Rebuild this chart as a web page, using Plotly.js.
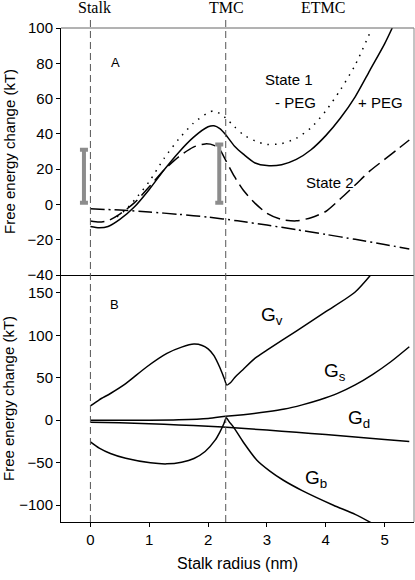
<!DOCTYPE html>
<html><head><meta charset="utf-8">
<script src="https://cdn.plot.ly/plotly-3.0.1.min.js"></script>
<style>html,body{margin:0;padding:0;background:#fff}#chart{width:415px;height:580px}</style>
</head><body><div id="chart"></div>
<script>
// ---- Panel A data ----
var s1PlusX  = [0,0.15,0.3,0.5,0.75,1.0,1.25,1.5,1.75,2.0,2.1,2.2,2.3,2.45,2.6,2.8,3.0,3.25,3.5,3.75,4.0,4.25,4.5,4.75,5.0,5.13];
var s1PlusY  = [-12.5,-13.2,-12.5,-8.5,-1.3,8.5,19.5,29.5,38,44,44.6,43,39.5,33,28.5,23.5,22,22.5,25.5,31,39,49,61,76,91,100];
var s1MinusX = [0.45,0.6,0.8,1.0,1.25,1.5,1.75,2.0,2.1,2.2,2.3,2.45,2.6,2.8,3.0,3.25,3.5,3.75,4.0,4.25,4.5,4.76];
var s1MinusY = [-7,-3,4.5,13,26,37,46,52,53,51.5,49,44,39.5,36,34,34.5,37.5,43.5,53,65,79,98];
var s2X      = [0,0.15,0.3,0.5,0.75,1.0,1.25,1.5,1.75,1.95,2.1,2.2,2.3,2.45,2.6,2.8,3.0,3.25,3.5,3.75,4.0,4.25,4.5,4.75,5.0,5.2,5.42];
var s2Y      = [-9.4,-10,-9.2,-5.5,1,10,19.5,27,32.5,34.3,33.5,31,25,15.7,8,0.6,-5,-8.5,-9.3,-7.5,-4,3.2,11,19,25.5,30.7,36.5];
var gdX      = [0,0.5,1.0,1.5,2.0,2.5,3.0,3.5,4.0,4.5,5.0,5.42];
var gdY      = [-2.5,-3.2,-4.3,-5.6,-7.2,-9.3,-11.7,-14.3,-17.0,-19.8,-22.7,-25.2];
var barX     = [-0.11, 2.19];
var barLow   = [1.0, 1.0];
var barHigh  = [31, 34];
// ---- Panel B data ----
var gvX = [0,0.15,0.34,0.6,0.96,1.3,1.55,1.76,1.9,2.0,2.1,2.2,2.27,2.32,2.38,2.45,2.6,2.8,3.0,3.5,4.0,4.5,4.8];
var gvY = [16.9,24,31.4,43,62.9,78.6,86,89.6,88,84,76,62,50,41.3,44,50,60,73,82.5,105,127.8,151,174];
var gsX = [0,0.5,1.0,1.5,2.0,2.3,2.6,3.0,3.3,3.6,3.9,4.2,4.5,4.8,5.1,5.42];
var gsY = [0,0,0,0.5,2,4.5,6.5,9.8,13,18,24,31.5,41.5,54,68.5,86.5];
var gbX = [0,0.15,0.34,0.6,1.02,1.3,1.55,1.76,1.95,2.12,2.2,2.27,2.31,2.36,2.43,2.6,2.83,3.05,3.28,3.6,4.13,4.5,4.8];
var gbY = [-25.6,-33,-39.3,-45,-50.3,-51.5,-49.5,-45.2,-37,-23.6,-14,-3.9,2.8,-2,-7.9,-26,-47.2,-60,-70.8,-83,-100.2,-111,-122];
// markers / labels
var stageX = [0, 2.3];
var stageNames = ['Stalk','TMC','ETMC'];
var stageNameX = [0.07, 2.32, 3.96];

var blk = '#000';
var lw = 1.5;
function ln(x, y, dash, ax) {
  return {x:x, y:y, type:'scatter', mode:'lines', xaxis:ax[0], yaxis:ax[1],
    line:{color:blk, width:lw, dash:dash, shape:'spline', smoothing:0.7}, hoverinfo:'skip'};
}
var axA = ['x2','y2'], axB = ['x','y'];
var barMid = barX.map(function(_, i){ return (barLow[i]+barHigh[i])/2; });
var barErr = barX.map(function(_, i){ return (barHigh[i]-barLow[i])/2; });
var data = [
  ln(s1PlusX, s1PlusY, 'solid', axA),
  ln(s1MinusX, s1MinusY, '1.5px,6px', axA),
  ln(s2X, s2Y, '14px,6px', axA),
  ln(gdX, gdY, '14px,4px,2px,4px', axA),
  {x:barX, y:barMid, type:'scatter', mode:'markers', xaxis:'x2', yaxis:'y2',
   marker:{size:1, color:'rgba(0,0,0,0)'},
   error_y:{type:'data', array:barErr, visible:true, color:'#8c8c8c', thickness:4, width:4}, hoverinfo:'skip'},
  ln(gvX, gvY, 'solid', axB),
  ln(gsX, gsY, 'solid', axB),
  ln(gdX, gdY, 'solid', axB),
  ln(gbX, gbY, 'solid', axB)
];

var tickFont = {family:'Liberation Sans, Arial, sans-serif', size:15, color:'#000'};
var shapes = stageX.map(function(v){
  return {type:'line', xref:'x', yref:'paper', x0:v, x1:v, y0:0, y1:1.022,
    line:{color:'#555', width:1, dash:'7px,4px'}};
});
shapes.push({type:'line', xref:'paper', yref:'paper', x0:0, x1:1, y0:1, y1:1, line:{color:'#666', width:1}});
shapes.push({type:'line', xref:'paper', yref:'paper', x0:1, x1:1, y0:0, y1:1, line:{color:'#888', width:1}});

var annF = {family:'Liberation Sans, Arial, sans-serif', size:15, color:'#000'};
var gF = {family:'Liberation Sans, Arial, sans-serif', size:19, color:'#000'};
var annotations = stageNames.map(function(n, i){
  return {text:n, xref:'x', yref:'paper', x:stageNameX[i], y:1.041, showarrow:false,
    font:{family:'Liberation Serif, Times New Roman, serif', size:16, color:'#000'}, xanchor:'center', yanchor:'middle'};
});
function ann(t, x, y, ax, f) {
  return {text:t, x:x, y:y, xref:ax[0], yref:ax[1], showarrow:false, font:f, xanchor:'center', yanchor:'middle'};
}
annotations.push(ann('A', 0.42, 80.7, axA, {family:annF.family, size:13, color:'#000'}));
annotations.push(ann('State 1', 3.38, 71, axA, annF));
annotations.push(ann('- PEG', 3.48, 57.7, axA, annF));
annotations.push(ann('+ PEG', 4.93, 57.7, axA, annF));
annotations.push(ann('State 2', 4.08, 12.3, axA, annF));
annotations.push(ann('B', 0.41, 136.4, axB, {family:annF.family, size:13, color:'#000'}));
annotations.push(ann('G<sub>v</sub>', 3.08, 123, axB, gF));
annotations.push(ann('G<sub>s</sub>', 4.15, 57, axB, gF));
annotations.push(ann('G<sub>d</sub>', 4.57, 1, axB, gF));
annotations.push(ann('G<sub>b</sub>', 3.84, -69.5, axB, gF));

var layout = {
  width:415, height:580, showlegend:false,
  margin:{l:61, r:1, t:28, b:58, pad:0},
  paper_bgcolor:'#fff', plot_bgcolor:'#fff',
  xaxis:{domain:[0,1], anchor:'y', range:[-0.5,5.5], tickvals:[0,1,2,3,4,5],
    ticks:'outside', ticklen:4, tickcolor:'#000', showline:true, linecolor:'#000', linewidth:1,
    showgrid:false, zeroline:false, tickfont:tickFont,
    title:{text:'Stalk radius (nm)', font:{family:tickFont.family, size:16, color:'#000'}, standoff:10}},
  xaxis2:{domain:[0,1], anchor:'y2', matches:'x', range:[-0.5,5.5], showticklabels:false, ticks:'',
    showline:true, linecolor:'#000', linewidth:1, showgrid:false, zeroline:false},
  yaxis:{domain:[0,0.5], anchor:'x', range:[-120,171], tickvals:[-100,-50,0,50,100,150],
    ticks:'outside', ticklen:4, tickcolor:'#000', showline:true, linecolor:'#000', linewidth:1,
    showgrid:false, zeroline:false, tickfont:tickFont,
    title:{text:'Free energy change (kT)', font:{family:tickFont.family, size:15, color:'#000'}, standoff:8}},
  yaxis2:{domain:[0.5,1], anchor:'x2', range:[-40,100], tickvals:[-40,-20,0,20,40,60,80,100],
    ticks:'outside', ticklen:4, tickcolor:'#000', showline:true, linecolor:'#000', linewidth:1,
    showgrid:false, zeroline:false, tickfont:tickFont,
    title:{text:'Free energy change (kT)', font:{family:tickFont.family, size:15, color:'#000'}, standoff:8}},
  shapes:shapes, annotations:annotations
};
Plotly.newPlot('chart', data, layout, {staticPlot:true, displayModeBar:false});
</script></body></html>
